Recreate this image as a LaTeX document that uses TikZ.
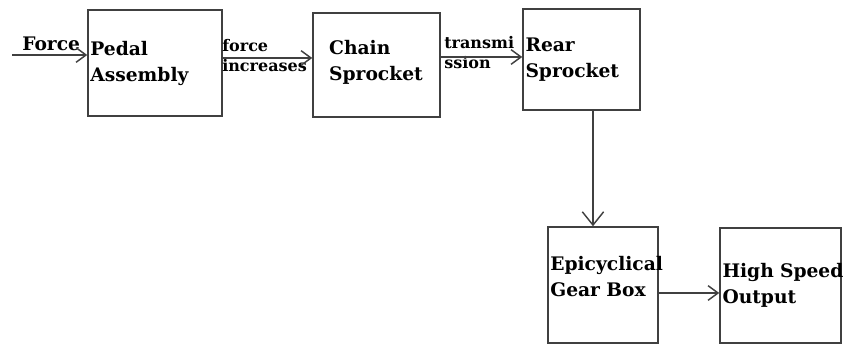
\documentclass[tikz,border=0pt]{standalone}
\usepackage{fontspec}
\setmainfont{DejaVu Serif}
\usetikzlibrary{arrows.meta}
\tikzstyle{block} = [rectangle, draw=black!75, line width=1.1pt, inner xsep=1.5pt, align=left, font=\fontsize{14}{19.5}\selectfont\bfseries]
\tikzstyle{note} = [draw=none, inner sep=0pt, align=left, font=\fontsize{12}{15}\selectfont\bfseries]
\tikzstyle{arrow} = [line width=1.1pt, draw=black!75, -{Straight Barb[length=7.5pt,width=11pt]}]

\begin{document}
\begin{tikzpicture}[x=0.75pt,y=-0.75pt]
		\useasboundingbox (0,0) rectangle (843,345);
		\node (pedal) [block, minimum width=100.5pt, minimum height=79.5pt, text width=97pt] at (155,63) {Pedal\\Assembly};
		\node (chain) [block, minimum width=95.25pt, minimum height=78pt, inner xsep=12pt, text width=71pt] at (376.5,65) {Chain\\Sprocket\vspace{4pt}};
		\node (rear) [block, minimum width=87.75pt, minimum height=75.75pt, text width=84pt] at (581.5,59.5) {Rear\\Sprocket};
		\node (epic) [block, minimum width=82.5pt, minimum height=87pt, text width=79pt] at (603,285) {Epicyclical\\Gear Box\vspace{12pt}};
		\node (high) [block, minimum width=90.75pt, minimum height=86.25pt, text width=87pt] at (780.5,285.5) {\mbox{High Speed}\\Output};
		\coordinate (fin) at (12,55);
		\node (force) [note, font=\fontsize{14}{19.5}\selectfont\bfseries, anchor=south west] at (22,51) {Force};
		\node (incr) [note, anchor=west] at (222,56) {force\\increases};
		\node (trans) [note, anchor=west] at (444,53) {transmi\\ssion};
		\draw [arrow] (fin) -- (fin -| pedal.west);
		\draw [arrow] ([yshift=3.75pt]pedal.east) -- ([yshift=3.75pt]pedal.east -| chain.west);
		\draw [arrow] ([yshift=6pt]chain.east) -- ([yshift=6pt]chain.east -| rear.west);
		\draw [arrow, -{Straight Barb[length=10pt,width=16pt]}] ([xshift=8.6pt]rear.south) -- ([xshift=8.6pt]rear.south |- epic.north);
		\draw [arrow] ([yshift=-6pt]epic.east) -- ([yshift=-6pt]epic.east -| high.west);
	\end{tikzpicture}
\end{document}
